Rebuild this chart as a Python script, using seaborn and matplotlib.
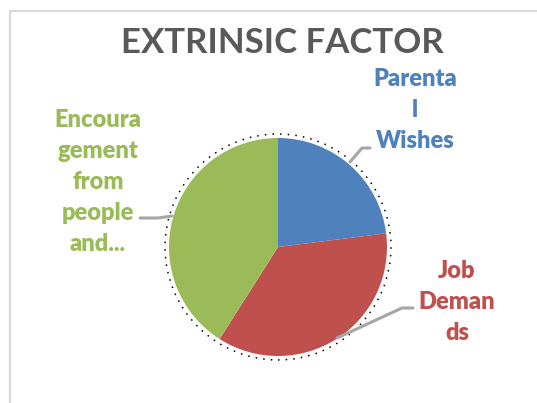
import matplotlib
matplotlib.use("Agg")
import matplotlib.pyplot as plt
import seaborn as sns

sns.set_theme(style="white")
plt.rcParams['font.family'] = ['Lato', 'DejaVu Sans']

title = "EXTRINSIC FACTOR"
categories = ["Parenta\nl\nWishes", "Job\nDeman\nds", "Encoura\ngement\nfrom\npeople\nand..."]
values = [23, 36, 41]
colors = ["#4F81BD", "#C0504D", "#9BBB59"]

W, H = 537, 403
fig = plt.figure(figsize=(W / 100, H / 100), dpi=100)
ax = fig.add_axes([0, 0, 1, 1])

# chart frame (only left and top visible in crop)
ax.plot([10, 10, W + 5], [-5, H - 11, H - 11], color="#d9d9d9", lw=1.6, solid_capstyle="butt")

cx, cy, r = 278, H - 247, 109
ax.pie(values, colors=colors, startangle=90, counterclock=False,
       center=(cx, cy), radius=r, wedgeprops=dict(linewidth=0))

# dotted soft edge
circ = plt.Circle((cx, cy), r + 4, fill=False, color="black", lw=1.1,
                  linestyle=(0, (1, 4)))
ax.add_patch(circ)

ax.set_xlim(0, W)
ax.set_ylim(0, H)
ax.set_aspect("equal")
ax.axis("off")

ax.text(282, H - 43, title, ha="center", va="center", fontsize=25,
        fontweight="bold", color="#595959")

# leader lines
lc = "#a6a6a6"
ax.plot([350, 362, 370], [H - 162, H - 148, H - 148], color=lc, lw=2.2)
ax.plot([337, 402, 413], [H - 338, H - 308, H - 308], color=lc, lw=2.2)
ax.plot([140, 158, 172], [H - 218, H - 218, H - 216], color=lc, lw=2.2)

label_pos = [(415, H - 110), (457, H - 302), (98, H - 182)]
for text, (x, y), c in zip(categories, label_pos, colors):
    ax.text(x, y, text, ha="center", va="center", fontsize=17,
            fontweight="heavy", color=c, linespacing=1.5)

fig.savefig("out.png", dpi=100)
